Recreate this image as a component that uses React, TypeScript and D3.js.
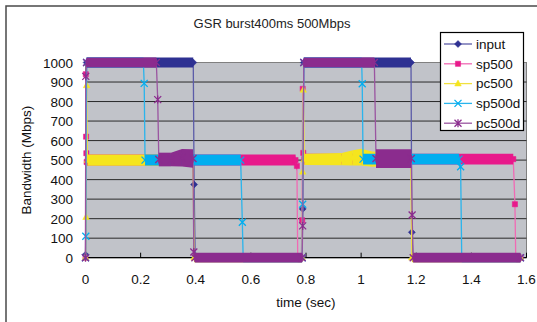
import React from 'react';
import * as d3 from 'd3';

// [time (sec), bandwidth (Mbps), visible scatter of the dense samples (Mbps)]
type Pt = [number, number, number];

const seriesNames = ['input', 'sp500', 'pc500', 'sp500d', 'pc500d'];
const xTicks = [0, 0.2, 0.4, 0.6, 0.8, 1, 1.2, 1.4, 1.6];
const yTicks = [0, 100, 200, 300, 400, 500, 600, 700, 800, 900, 1000];

const inputPts: Pt[] = [
  [0, 15, 0], [0.004, 1000, 2], [0.391, 1000, 2], [0.394, 375, 0], [0.398, 0, 0],
  [0.785, 0, 0], [0.788, 250, 0], [0.792, 1000, 2], [1.181, 1000, 2], [1.184, 130, 0],
  [1.188, 0, 0], [1.578, 0, 0],
];
const sp500Pts: Pt[] = [
  [0, 0, 0], [0.001, 940, 0], [0.002, 620, 0], [0.003, 535, 0], [0.004, 490, 0],
  [0.008, 500, 5], [0.762, 500, 5], [0.767, 470, 0], [0.77, 0, 0], [0.783, 0, 0],
  [0.786, 192, 0], [0.788, 865, 0], [0.79, 537, 0], [0.794, 505, 5], [1.552, 505, 5],
  [1.558, 274, 0], [1.561, 0, 0], [1.578, 0, 0],
];
const pc500Pts: Pt[] = [
  [0, 0, 0], [0.002, 208, 0], [0.004, 883, 0], [0.007, 500, 6], [0.39, 500, 6],
  [0.394, 0, 0], [0.786, 0, 0], [0.788, 440, 0], [0.79, 860, 0], [0.794, 504, 6],
  [0.93, 505, 8], [0.97, 512, 16], [1.0, 515, 20], [1.04, 505, 16], [1.18, 505, 6],
  [1.184, 0, 0], [1.578, 0, 0],
];
const sp500dPts: Pt[] = [
  [0, 0, 0], [0.001, 110, 0], [0.004, 1000, 2], [0.21, 1000, 2], [0.213, 893, 0],
  [0.216, 500, 5], [0.563, 500, 5], [0.569, 182, 0], [0.572, 0, 0], [0.786, 0, 0],
  [0.788, 274, 0], [0.792, 1000, 2], [1.002, 1000, 2], [1.004, 891, 0], [1.007, 505, 5],
  [1.355, 505, 5], [1.361, 466, 0], [1.365, 0, 0], [1.578, 0, 0],
];
const pc500dPts: Pt[] = [
  [0, 0, 0], [0.001, 929, 0], [0.004, 1000, 2], [0.257, 1000, 2], [0.262, 810, 0],
  [0.266, 503, 12], [0.31, 503, 12], [0.35, 512, 22], [0.39, 508, 24], [0.393, 29, 0],
  [0.397, 0, 2], [0.786, 0, 2], [0.788, 163, 0], [0.792, 1000, 2], [1.048, 1000, 2],
  [1.054, 508, 25], [1.182, 508, 25], [1.185, 219, 0], [1.189, 0, 2], [1.578, 0, 2],
];

const seriesData = [inputPts, sp500Pts, pc500Pts, sp500dPts, pc500dPts];
const seriesStyle = [
  { color: '#2e3192', line: '#5c5ca8', marker: 'diamond' },
  { color: '#e8198b', line: '#f06ab4', marker: 'square' },
  { color: '#f5e51e', line: '#f0e040', marker: 'triangle' },
  { color: '#00aeef', line: '#2ab4ec', marker: 'x' },
  { color: '#8b2c8e', line: '#9a55a0', marker: 'star' },
];

const W = 537;
const H = 322;
const plot = { left: 85.5, right: 526.5, top: 62.5, bottom: 257.7 };
const font = '"Liberation Sans", Arial, sans-serif';

const x = d3.scaleLinear().domain([0, 1.6]).range([plot.left, plot.right]);
const y = d3.scaleLinear().domain([0, 1000]).range([plot.bottom, plot.top]);

function markerPath(kind: string, cx: number, cy: number) {
  const r = 3.5;
  if (kind === 'diamond') return `M${cx},${cy - r}L${cx + r},${cy}L${cx},${cy + r}L${cx - r},${cy}Z`;
  if (kind === 'square') return `M${cx - 2.6},${cy - 2.6}h5.2v5.2h-5.2Z`;
  if (kind === 'triangle') return `M${cx},${cy - 3.6}L${cx + 3.3},${cy + 2.4}L${cx - 3.3},${cy + 2.4}Z`;
  if (kind === 'x') return `M${cx - r},${cy - r}L${cx + r},${cy + r}M${cx - r},${cy + r}L${cx + r},${cy - r}`;
  return `M${cx - r},${cy - r}L${cx + r},${cy + r}M${cx - r},${cy + r}L${cx + r},${cy - r}M${cx},${cy - r - 0.5}L${cx},${cy + r + 0.5}`;
}

function Marker({ kind, cx, cy, color }: { kind: string; cx: number; cy: number; color: string }) {
  const stroked = kind === 'x' || kind === 'star';
  return (
    <path
      d={markerPath(kind, cx, cy)}
      fill={stroked ? 'none' : color}
      stroke={color}
      strokeWidth={stroked ? 1.3 : 0.5}
    />
  );
}

export default function App() {
  const line = d3.line<Pt>().x(d => x(d[0])).y(d => y(d[1]));
  const half = 4.5; // half height of the overlapping markers

  return (
    <svg width={W} height={H} style={{ position: 'absolute', left: 0, top: 0, background: '#fff' }}>
      <rect x={6} y={6} width={540} height={330} fill="#fff" stroke="#4a4a4a" strokeWidth={1.5} />
      <text x={272} y={28} textAnchor="middle" fontFamily={font} fontSize={13} fill="#222">
        GSR burst400ms  500Mbps
      </text>

      <rect x={plot.left} y={plot.top} width={plot.right - plot.left} height={plot.bottom - plot.top}
        fill="#c1c3c9" stroke="#808080" strokeWidth={1} />
      {yTicks.filter(t => t > 0 && t < 1000).map(t => (
        <line key={t} x1={plot.left} x2={plot.right} y1={y(t)} y2={y(t)} stroke="#2a2a2a" strokeWidth={1} />
      ))}
      <line x1={plot.left} x2={plot.right} y1={y(0)} y2={y(0)} stroke="#000" strokeWidth={1.2} />
      {xTicks.filter(t => t > 0).map(t => (
        <line key={t} x1={x(t)} x2={x(t)} y1={y(0)} y2={y(0) - 5} stroke="#000" strokeWidth={1} />
      ))}

      {seriesData.map((pts, si) => {
        const st = seriesStyle[si];
        const bands = [];
        for (let i = 0; i < pts.length - 1; i++) {
          const a = pts[i];
          const b = pts[i + 1];
          if (Math.abs(a[1] - b[1]) > 60) continue;
          const poly = [
            [x(a[0]), y(a[1] + a[2]) - half],
            [x(b[0]), y(b[1] + b[2]) - half],
            [x(b[0]), y(b[1] - b[2]) + half],
            [x(a[0]), y(a[1] - a[2]) + half],
          ];
          bands.push(<polygon key={i} points={poly.map(p => p.join(',')).join(' ')} fill={st.color} />);
        }
        return (
          <g key={seriesNames[si]}>
            <path d={line(pts) || ''} fill="none" stroke={st.line} strokeWidth={1.3} />
            {bands}
            {pts.map((p, i) => (
              <Marker key={i} kind={st.marker} cx={x(p[0])} cy={y(p[1])} color={st.color} />
            ))}
          </g>
        );
      })}

      {yTicks.map(t => (
        <text key={t} x={73} y={y(t) + 5} textAnchor="end" fontFamily={font} fontSize={13.5} fill="#111">
          {t}
        </text>
      ))}
      {xTicks.map(t => (
        <text key={t} x={x(t)} y={284} textAnchor="middle" fontFamily={font} fontSize={13.5} fill="#111">
          {d3.format('~g')(t)}
        </text>
      ))}
      <text x={306} y={307} textAnchor="middle" fontFamily={font} fontSize={13.5} fill="#111">time (sec)</text>
      <text transform={`translate(31,${(plot.top + plot.bottom) / 2}) rotate(-90)`} textAnchor="middle"
        fontFamily={font} fontSize={13.5} fill="#111">Bandwidth (Mbps)</text>

      <rect x={440.5} y={32.5} width={83} height={98} fill="#fff" stroke="#000" strokeWidth={1.2} />
      {seriesNames.map((name, i) => {
        const ly = 44 + i * 19.8;
        const st = seriesStyle[i];
        return (
          <g key={name}>
            <line x1={444} x2={472} y1={ly} y2={ly} stroke={st.line} strokeWidth={1.3} />
            <Marker kind={st.marker} cx={458} cy={ly} color={st.color} />
            <text x={476} y={ly + 4.8} fontFamily={font} fontSize={13.5} fill="#111">{name}</text>
          </g>
        );
      })}
    </svg>
  );
}
